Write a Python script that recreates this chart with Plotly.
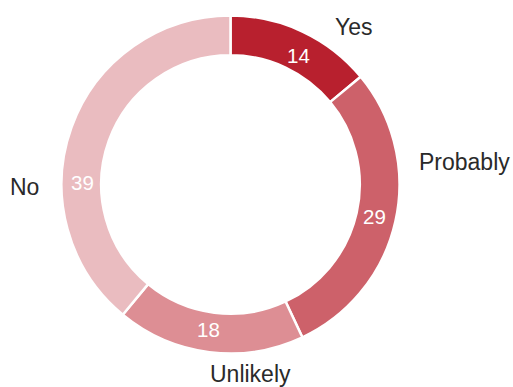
import plotly.graph_objects as go

# Survey answers and counts
labels = ["Yes", "Probably", "Unlikely", "No"]
values = [14, 29, 18, 39]
colors = ["#b8202e", "#cd616a", "#dd8e94", "#eabcc0"]

# Anchor points (pixels from top-left of the 513x387 canvas)
label_px = [(354, 27), (464, 162), (250, 374), (24, 187)]
value_px = [(298, 55), (374, 216), (208, 329), (82, 183)]

W, H = 513, 387
cx, cy, r = 230.5, 184.5, 169.0
FONT = "Liberation Sans, Arial, sans-serif"

fig = go.Figure(
    go.Pie(
        labels=labels,
        values=values,
        sort=False,
        direction="clockwise",
        rotation=0,
        hole=0.765,
        marker=dict(colors=colors, line=dict(color="white", width=2.5)),
        textinfo="none",
        hoverinfo="skip",
        domain=dict(
            x=[(cx - r) / W, (cx + r) / W],
            y=[1 - (cy + r) / H, 1 - (cy - r) / H],
        ),
    )
)


def paper(px, py):
    return px / W, 1 - py / H


for name, (px, py) in zip(labels, label_px):
    x, y = paper(px, py)
    fig.add_annotation(
        x=x, y=y, xref="paper", yref="paper",
        text=name, showarrow=False, xanchor="center", yanchor="middle",
        font=dict(family=FONT, size=23, color="#2a2a2a"),
    )

for v, (px, py) in zip(values, value_px):
    x, y = paper(px, py)
    fig.add_annotation(
        x=x, y=y, xref="paper", yref="paper",
        text=str(v), showarrow=False, xanchor="center", yanchor="middle",
        font=dict(family=FONT, size=20.5, color="white"),
    )

fig.update_layout(
    width=W, height=H,
    margin=dict(l=0, r=0, t=0, b=0),
    paper_bgcolor="white",
    plot_bgcolor="white",
    showlegend=False,
)

fig.write_html("out.html")
